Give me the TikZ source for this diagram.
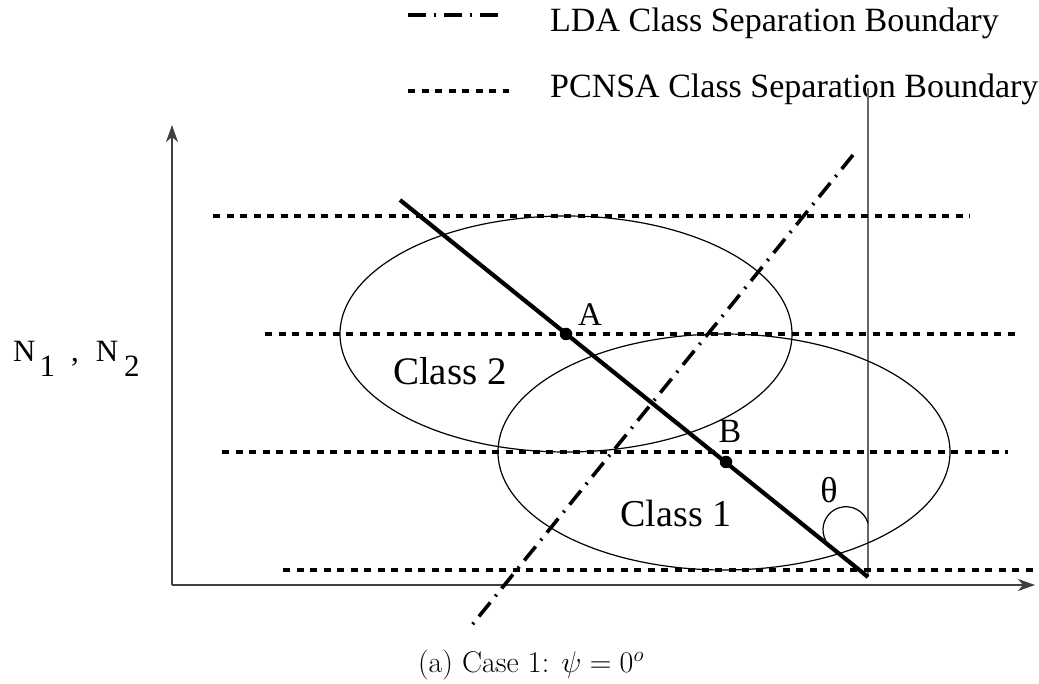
\RequirePackage{fix-cm}
\documentclass[tikz,border=0pt]{standalone}
\usepackage{fontspec}
\newfontfamily\tnr{Liberation Serif}
\usetikzlibrary{arrows.meta}
\tikzset{
  axis/.style={line width=1.5pt, draw=black!75, -{Stealth[length=17pt,width=12pt,inset=5pt]}},
  thin/.style={line width=1.1pt, draw=black!60},
  pcnsa/.style={line width=3.8pt, dash pattern=on 7pt off 6.5pt},
  lda/.style={line width=3.6pt, dash pattern=on 18pt off 8pt on 2pt off 8pt},
  thickline/.style={line width=4.2pt},
  cls/.style={line width=1.2pt},
  lbl/.style={inner sep=0pt, anchor=base, font=\tnr\fontsize{#1}{#1}\selectfont},
  lbl/.default=34,
  dotm/.style={circle, fill=black, inner sep=0pt, minimum size=12.5pt}
}
\begin{document}
\begin{tikzpicture}[x=1pt,y=1pt]
\useasboundingbox (0,0) rectangle (1039,683);
% legend
\coordinate (l1a) at (408,668); \coordinate (l1b) at (505,668);
\coordinate (l2a) at (408,592); \coordinate (l2b) at (509,592);
\draw[lda] (l1a) -- (l1b);
\draw[pcnsa] (l2a) -- (l2b);
\node[lbl, anchor=base west] (t1) at (550,651) {LDA Class Separation Boundary};
\node[lbl, anchor=base west] (t2) at (550,585) {PCNSA Class Separation Boundary};
% axes
\coordinate (o) at (172,98);
\coordinate (ytip) at (172,558);
\coordinate (xtip) at (1035,98);
\draw[axis] (o) -- (ytip);
\draw[axis] (o) -- (xtip);
% vertical reference line
\coordinate (vt) at (868,595);
\coordinate (vb) at (868,106);
\draw[thin] (vt) -- (vb);
% dashed PCNSA lines
\coordinate (d1a) at (213,467); \coordinate (d1b) at (970,467);
\coordinate (d2a) at (265,349); \coordinate (d2b) at (1020,349);
\coordinate (d3a) at (222,231); \coordinate (d3b) at (1008,231);
\coordinate (d4a) at (283,113); \coordinate (d4b) at (1035,113);
\draw[pcnsa] (d1a) -- (d1b);
\draw[pcnsa] (d2a) -- (d2b);
\draw[pcnsa] (d3a) -- (d3b);
\draw[pcnsa] (d4a) -- (d4b);
% ellipses
\coordinate (c2) at (566,349);
\coordinate (c1) at (724,231);
\draw[cls] (c2) ellipse [x radius=226pt, y radius=118pt];
\draw[cls] (c1) ellipse [x radius=226pt, y radius=118pt];
% LDA line
\coordinate (la) at (853,528); \coordinate (lb) at (472,58);
\draw[lda] (la) -- (lb);
% thick line
\coordinate (ta) at (400,483);
\draw[thickline] (ta) -- (vb);
% points
\node[dotm] (A) at (566,349) {};
\node[dotm] (B) at (726,221) {};
\node[lbl=33] (Al) at (590,357) {A};
\node[lbl=34] (Bl) at (730,240) {B};
% class labels
\node[lbl=39] (cl2) at (450,298) {Class 2};
\node[lbl=38] (cl1) at (676,156) {Class 1};
% theta
\draw[cls] (868,160) arc[start angle=17, end angle=209, radius=23pt];
\node[lbl=36] (th) at (829,180) {θ};
% y label
\node[lbl=31, anchor=base west] (ny) at (13,321) {N\hspace{4pt}\raisebox{-15pt}{1}\hspace{16pt},\hspace{17pt}N\hspace{6pt}\raisebox{-15pt}{2}};
% caption
\node[inner sep=0pt, anchor=base, font=\fontsize{30}{36}\selectfont] (cap) at (531,11) {(a) Case 1: $\psi = 0^o$};
\end{tikzpicture}
\end{document}
